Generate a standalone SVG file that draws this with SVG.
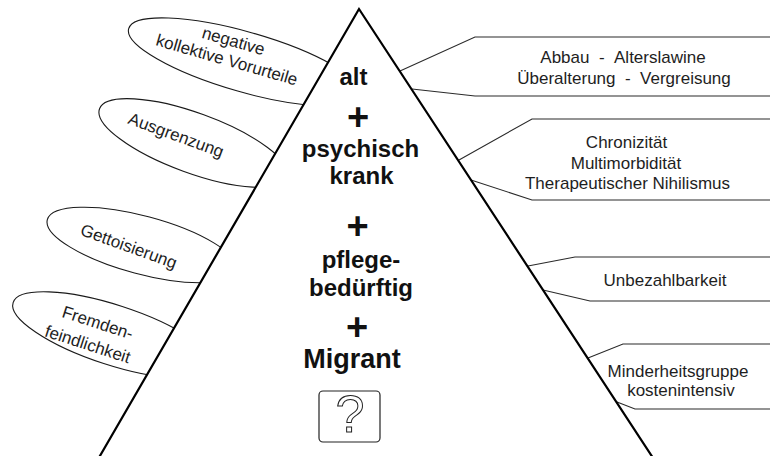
<svg xmlns="http://www.w3.org/2000/svg" width="770" height="456" viewBox="0 0 770 456">
<style>
.ell{fill:#fff;stroke:#1a1a1a;stroke-width:1.1}
.lt{font-family:"Liberation Sans",Arial,sans-serif;font-size:17px;fill:#1e1e1e;text-anchor:middle}
.ct{font-family:"Liberation Sans",Arial,sans-serif;font-weight:bold;font-size:24px;fill:#111;text-anchor:middle}
.plus{font-family:"Liberation Sans",Arial,sans-serif;font-weight:bold;font-size:38px;fill:#111;text-anchor:middle}
.con{fill:none;stroke:#2a2a2a;stroke-width:1.1}
.tri{fill:#fff;stroke:#000;stroke-width:2.2;stroke-linejoin:miter}
</style>
<rect width="770" height="456" fill="#fff"/>
<g id="ellipse-vorurteile"><ellipse class="ell" cx="245" cy="62" rx="121" ry="30" transform="rotate(16 245 62)"/></g>
<g id="ellipse-ausgrenzung"><ellipse class="ell" cx="193.5" cy="143" rx="100" ry="30" transform="rotate(20 193.5 143)"/></g>
<g id="ellipse-gettoisierung"><ellipse class="ell" cx="142" cy="245" rx="98" ry="29" transform="rotate(15 142 245)"/></g>
<g id="ellipse-fremdenfeindlichkeit"><ellipse class="ell" cx="113" cy="335" rx="105" ry="30" transform="rotate(18 113 335)"/></g>
<g id="connectors">
<polyline class="con" points="400,71 475,37 770,37"/>
<polyline class="con" points="412,89 475,96 770,96"/>
<polyline class="con" points="459,160 532,119 770,119"/>
<polyline class="con" points="471,180 532,200 770,200"/>
<polyline class="con" points="528,266 575,257 770,257"/>
<polyline class="con" points="543,290 590,301 770,301"/>
<polyline class="con" points="588,358 623,344 770,344"/>
<polyline class="con" points="617,402 635,409 770,409"/>
</g>
<g id="pyramid">
<polygon class="tri" points="359,9 97,461 655,461"/>
<text class="ct" x="353.5" y="85">alt</text>
<text class="plus" x="358" y="130">+</text>
<text class="ct" x="360.5" y="157">psychisch</text>
<text class="ct" x="361.5" y="184">krank</text>
<text class="plus" x="357.5" y="239">+</text>
<text class="ct" x="361" y="268">pflege-</text>
<text class="ct" x="361" y="296">bedürftig</text>
<text class="plus" x="357" y="340">+</text>
<text class="ct" x="352" y="368" style="font-size:27px">Migrant</text>
</g>
<g id="question-box">
<rect x="319" y="391" width="61" height="51" rx="4" fill="#fff" stroke="#222" stroke-width="1.2"/>
<text x="350" y="432" style="font-family:'Liberation Sans',Arial,sans-serif;font-size:52px;fill:#fff;stroke:#222;stroke-width:1;text-anchor:middle">?</text>
</g>
<g id="text-vorurteile">
<text class="lt" transform="translate(233.3,41.7) rotate(16)" y="5">negative</text>
<text class="lt" transform="translate(226.7,60.5) rotate(16)" y="5">kollektive Vorurteile</text>
</g>
<g id="text-ausgrenzung"><text class="lt" transform="translate(175.8,135.8) rotate(20)" y="5">Ausgrenzung</text></g>
<g id="text-gettoisierung"><text class="lt" transform="translate(128.5,247) rotate(20)" y="5">Gettoisierung</text></g>
<g id="text-fremden">
<text class="lt" transform="translate(97.5,323.5) rotate(18)" y="5">Fremden-</text>
<text class="lt" transform="translate(87.5,345) rotate(18)" y="5">feindlichkeit</text>
</g>
<g id="box-alter">
<text class="lt" x="623" y="63">Abbau &#160;- &#160;Alterslawine</text>
<text class="lt" x="624" y="84">Überalterung &#160;- &#160;Vergreisung</text>
</g>
<g id="box-chron">
<text class="lt" x="626.5" y="148">Chronizität</text>
<text class="lt" x="626" y="169">Multimorbidität</text>
<text class="lt" x="627.5" y="189">Therapeutischer Nihilismus</text>
</g>
<g id="box-unbezahl"><text class="lt" x="665" y="286">Unbezahlbarkeit</text></g>
<g id="box-minder">
<text class="lt" x="678" y="376.5">Minderheitsgruppe</text>
<text class="lt" x="681" y="395.5">kostenintensiv</text>
</g>
</svg>
